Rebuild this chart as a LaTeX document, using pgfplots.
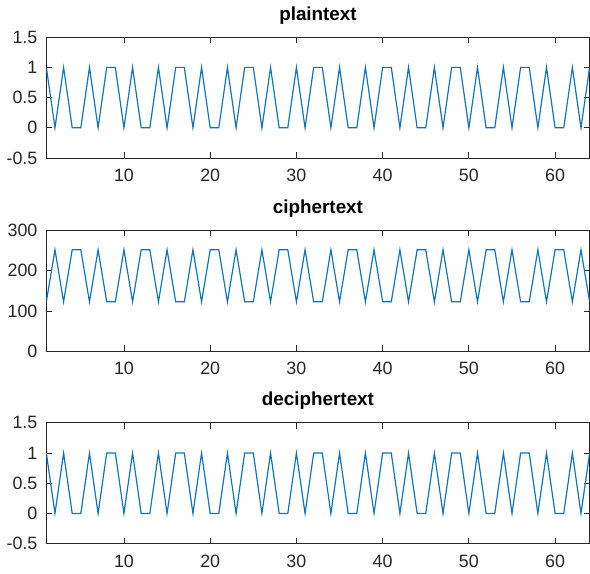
\documentclass[border=0pt]{standalone}
\usepackage{pgfplots}
\pgfplotsset{compat=1.18}
\usepackage{pgfplotstable}
\usepackage{fontspec}
\setmainfont{Liberation Sans}
\definecolor{mlblue}{rgb}{0.05,0.46,0.74}
\definecolor{axgray}{rgb}{0.15,0.15,0.15}
\pgfplotstableread{
x p c d
1 1 123 1
2 0 252 0
3 1 123 1
4 0 252 0
5 0 252 0
6 1 123 1
7 0 252 0
8 1 123 1
9 1 123 1
10 0 252 0
11 1 123 1
12 0 252 0
13 0 252 0
14 1 123 1
15 0 252 0
16 1 123 1
17 1 123 1
18 0 252 0
19 1 123 1
20 0 252 0
21 0 252 0
22 1 123 1
23 0 252 0
24 1 123 1
25 1 123 1
26 0 252 0
27 1 123 1
28 0 252 0
29 0 252 0
30 1 123 1
31 0 252 0
32 1 123 1
33 1 123 1
34 0 252 0
35 1 123 1
36 0 252 0
37 0 252 0
38 1 123 1
39 0 252 0
40 1 123 1
41 1 123 1
42 0 252 0
43 1 123 1
44 0 252 0
45 0 252 0
46 1 123 1
47 0 252 0
48 1 123 1
49 1 123 1
50 0 252 0
51 1 123 1
52 0 252 0
53 0 252 0
54 1 123 1
55 0 252 0
56 1 123 1
57 1 123 1
58 0 252 0
59 1 123 1
60 0 252 0
61 0 252 0
62 1 123 1
63 0 252 0
64 1 123 1
}\datatable
\pgfplotsset{
  mlaxis/.style={
    width=274pt, height=61pt, scale only axis,
    xmin=1, xmax=64,
    xtick={10,20,30,40,50,60},
    tick align=inside,
    major tick length=3pt,
    axis line style={axgray, line width=0.4pt},
    every tick/.style={axgray, line width=0.4pt},
    tick label style={font=\fontsize{9}{10}\selectfont, text=axgray},
    /pgf/number format/assume math mode=true,
    title style={font=\bfseries\fontsize{9.5}{11}\selectfont, yshift=-3pt},
    xticklabel style={yshift=-2pt},
    yticklabel style={xshift=-1pt},
    anchor=north west,
  }
}
\begin{document}
\begin{tikzpicture}
\begin{axis}[mlaxis, at={(0,0)}, title={plaintext},
  ymin=-0.5, ymax=1.5, ytick={-0.5,0,0.5,1,1.5},
  yticklabels={-0.5,0,0.5,1,1.5}]
\addplot[mlblue, line width=0.6pt] table[x=x,y=p]{\datatable};
\end{axis}
\begin{axis}[mlaxis, at={(0,-97.5pt)}, title={ciphertext},
  ymin=0, ymax=300, ytick={0,100,200,300}]
\addplot[mlblue, line width=0.6pt] table[x=x,y=c]{\datatable};
\end{axis}
\begin{axis}[mlaxis, at={(0,-194.5pt)}, title={deciphertext},
  ymin=-0.5, ymax=1.5, ytick={-0.5,0,0.5,1,1.5},
  yticklabels={-0.5,0,0.5,1,1.5}]
\addplot[mlblue, line width=0.6pt] table[x=x,y=d]{\datatable};
\end{axis}
\end{tikzpicture}
\end{document}
